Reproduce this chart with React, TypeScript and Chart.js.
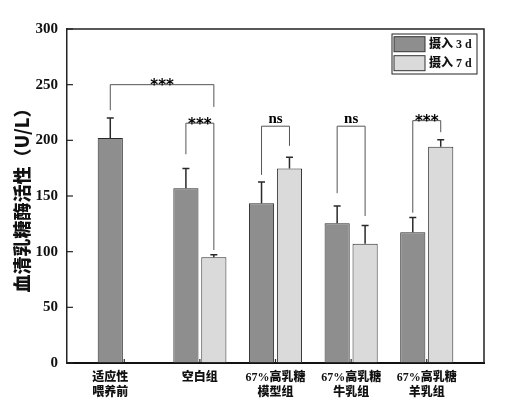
import React, { useEffect, useRef } from "react";
import { Chart, registerables } from "chart.js";

Chart.register(...registerables);

// ---------- data ----------
const categories: string[][] = [
  ["适应性", "喂养前"],
  ["空白组"],
  ["67%高乳糖", "模型组"],
  ["67%高乳糖", "牛乳组"],
  ["67%高乳糖", "羊乳组"],
];
const seriesNames = ["摄入 3 d", "摄入 7 d"];
const day3Values: (number | null)[] = [202, 157, 143.5, 125.5, 117.5];
const day3Errors: (number | null)[] = [18, 17.6, 19, 15.5, 13.2];
const day7Values: (number | null)[] = [null, 95, 174.6, 107, 194.3];
const day7Errors: (number | null)[] = [null, 2.3, 10.2, 16.4, 6.3];
const yTickValues = [0, 50, 100, 150, 200, 250, 300];

// significance brackets: [series, category] for left & right legs, values in U/L
const bracketLabels = ["***", "***", "ns", "ns", "***"];
const bracketLeft: [number, number][] = [[0, 0], [0, 1], [0, 2], [0, 3], [0, 4]];
const bracketRight: [number, number][] = [[1, 1], [1, 1], [1, 2], [1, 3], [1, 4]];
const bracketTop = [250, 215.4, 212.7, 212.7, 217.7];
const bracketLeftEnd = [227, 187.5, 169, 152.5, 135];
const bracketRightEnd = [230, 101.5, 195, 132, 207.3];

const seriesColors = ["#8e8e8e", "#dadada"];
const borderColor = "#2a2a2a";
const serif = "'Liberation Serif', 'Times New Roman', 'Noto Sans CJK SC', serif";
const cjk = "'Liberation Serif', 'Noto Sans CJK SC', sans-serif";

const decorPlugin = {
  id: "decor",
  afterDatasetsDraw(chart: any) {
    const ctx = chart.ctx as CanvasRenderingContext2D;
    const y = chart.scales.y;
    const errs = [day3Errors, day7Errors];
    const vals = [day3Values, day7Values];
    ctx.save();
    // error bars
    ctx.strokeStyle = borderColor;
    ctx.lineWidth = 1.5;
    for (let d = 0; d < 2; d++) {
      const meta = chart.getDatasetMeta(d);
      meta.data.forEach((bar: any, i: number) => {
        const v = vals[d][i];
        const e = errs[d][i];
        if (v == null || e == null) return;
        const yt = y.getPixelForValue(v + e);
        ctx.beginPath();
        ctx.moveTo(bar.x, bar.y);
        ctx.lineTo(bar.x, yt);
        ctx.moveTo(bar.x - 3.5, yt);
        ctx.lineTo(bar.x + 3.5, yt);
        ctx.stroke();
      });
    }
    // brackets
    ctx.strokeStyle = "#555";
    ctx.lineWidth = 1;
    ctx.fillStyle = "#000";
    ctx.textAlign = "center";
    ctx.textBaseline = "alphabetic";
    bracketLabels.forEach((lab, k) => {
      const l = chart.getDatasetMeta(bracketLeft[k][0]).data[bracketLeft[k][1]];
      const r = chart.getDatasetMeta(bracketRight[k][0]).data[bracketRight[k][1]];
      const xl = l.x;
      const xr = r.x;
      const yt = y.getPixelForValue(bracketTop[k]);
      ctx.beginPath();
      ctx.moveTo(xl, y.getPixelForValue(bracketLeftEnd[k]));
      ctx.lineTo(xl, yt);
      ctx.lineTo(xr, yt);
      ctx.lineTo(xr, y.getPixelForValue(bracketRightEnd[k]));
      ctx.stroke();
      if (lab === "ns") {
        ctx.font = `bold 15px ${serif}`;
        ctx.fillText(lab, (xl + xr) / 2, yt - 3.4);
      } else {
        ctx.font = `bold 15px 'DejaVu Sans', sans-serif`;
        ctx.fillText(lab, (xl + xr) / 2, yt + 5.5);
      }
    });
    ctx.restore();
  },
  afterDraw(chart: any) {
    const ctx = chart.ctx as CanvasRenderingContext2D;
    const ca = chart.chartArea;
    const x = chart.scales.x;
    const y = chart.scales.y;
    ctx.save();
    // frame top & right
    ctx.strokeStyle = "#222";
    ctx.lineWidth = 1.5;
    ctx.beginPath();
    ctx.moveTo(ca.left, ca.top);
    ctx.lineTo(ca.right, ca.top);
    ctx.lineTo(ca.right, ca.bottom);
    ctx.stroke();
    // inward y ticks
    ctx.lineWidth = 1.2;
    y.ticks.forEach((t: any) => {
      const py = y.getPixelForValue(t.value);
      ctx.beginPath();
      ctx.moveTo(ca.left, py);
      ctx.lineTo(ca.left + 6, py);
      ctx.stroke();
    });
    // inward x ticks
    categories.forEach((_, i) => {
      const px = x.getPixelForValue(i);
      ctx.beginPath();
      ctx.moveTo(px, ca.bottom);
      ctx.lineTo(px, ca.bottom - 4);
      ctx.stroke();
    });
    // x labels centred under present bars
    ctx.fillStyle = "#111";
    ctx.textAlign = "center";
    ctx.textBaseline = "middle";
    ctx.font = `900 12px ${cjk}`;
    const vals = [day3Values, day7Values];
    categories.forEach((lines, i) => {
      const xs: number[] = [];
      for (let d = 0; d < 2; d++) {
        if (vals[d][i] != null) xs.push(chart.getDatasetMeta(d).data[i].x);
      }
      const cx = xs.length ? xs.reduce((a, b) => a + b, 0) / xs.length : x.getPixelForValue(i);
      lines.forEach((line, li) => {
        ctx.fillText(line, cx, ca.bottom + 15 + li * 14.7);
      });
    });
    // legend
    const bw = 85;
    const bh = 40;
    const bx = ca.right - 7 - bw;
    const by = ca.top + 5;
    ctx.fillStyle = "#fff";
    ctx.fillRect(bx, by, bw, bh);
    ctx.strokeStyle = "#222";
    ctx.lineWidth = 1;
    ctx.strokeRect(bx, by, bw, bh);
    chart.data.datasets.forEach((ds: any, d: number) => {
      const sy = by + 2.7 + d * 19;
      ctx.fillStyle = ds.backgroundColor;
      ctx.fillRect(bx + 2, sy, 31, 15);
      ctx.strokeStyle = "#333";
      ctx.strokeRect(bx + 2, sy, 31, 15);
      ctx.fillStyle = "#111";
      ctx.textAlign = "left";
      ctx.textBaseline = "middle";
      ctx.font = `900 12px ${cjk}`;
      ctx.fillText(ds.label, bx + 37, sy + 8);
    });
    ctx.restore();
  },
};

export default function App() {
  const ref = useRef<HTMLCanvasElement | null>(null);
  useEffect(() => {
    if (!ref.current) return;
    const chart = new Chart(ref.current, {
      type: "bar",
      data: {
        datasets: [
          {
            label: seriesNames[0],
            data: day3Values.map((v, i) => ({ x: i, y: v })) as any,
            backgroundColor: seriesColors[0],
            borderColor,
            borderWidth: 1,
            borderSkipped: false,
          },
          {
            label: seriesNames[1],
            data: day7Values.map((v, i) => ({ x: i, y: v })) as any,
            backgroundColor: seriesColors[1],
            borderColor,
            borderWidth: 1,
            borderSkipped: false,
          },
        ],
      },
      options: {
        responsive: false,
        animation: false,
        categoryPercentage: 0.739,
        barPercentage: 0.9,
        layout: { padding: { top: 29, right: 21, left: 0, bottom: 0 } },
        plugins: { legend: { display: false }, tooltip: { enabled: false } },
        scales: {
          x: {
            type: "linear",
            min: -0.757,
            max: categories.length - 1 + 0.757,
            offset: false,
            grid: { display: false, drawTicks: false },
            border: { display: true, color: "#111", width: 2 },
            ticks: { display: false, stepSize: 1, includeBounds: false },
            afterFit: (s: any) => { s.height = 46; },
          },
          y: {
            min: 0,
            max: 300,
            grid: { display: false, drawTicks: false },
            border: { display: true, color: "#222", width: 1.5 },
            afterBuildTicks: (s: any) => { s.ticks = yTickValues.map((v) => ({ value: v })); },
            ticks: {
              padding: 9,
              color: "#111",
              font: { family: serif, size: 15, weight: "bold" },
            },
            title: {
              display: true,
              text: "血清乳糖酶活性（U/L）",
              color: "#111",
              font: { family: "'Noto Sans CJK SC', sans-serif", size: 18, weight: "900" },
              padding: { top: 11, bottom: 0 },
            },
            afterFit: (s: any) => { s.width = 67; },
          },
        },
      } as any,
      plugins: [decorPlugin],
    });
    return () => chart.destroy();
  }, []);
  return (
    <div style={{ position: "absolute", left: 0, top: 0, width: 505, height: 409, background: "#fff" }}>
      <canvas ref={ref} width={505} height={409} style={{ display: "block" }} />
    </div>
  );
}
